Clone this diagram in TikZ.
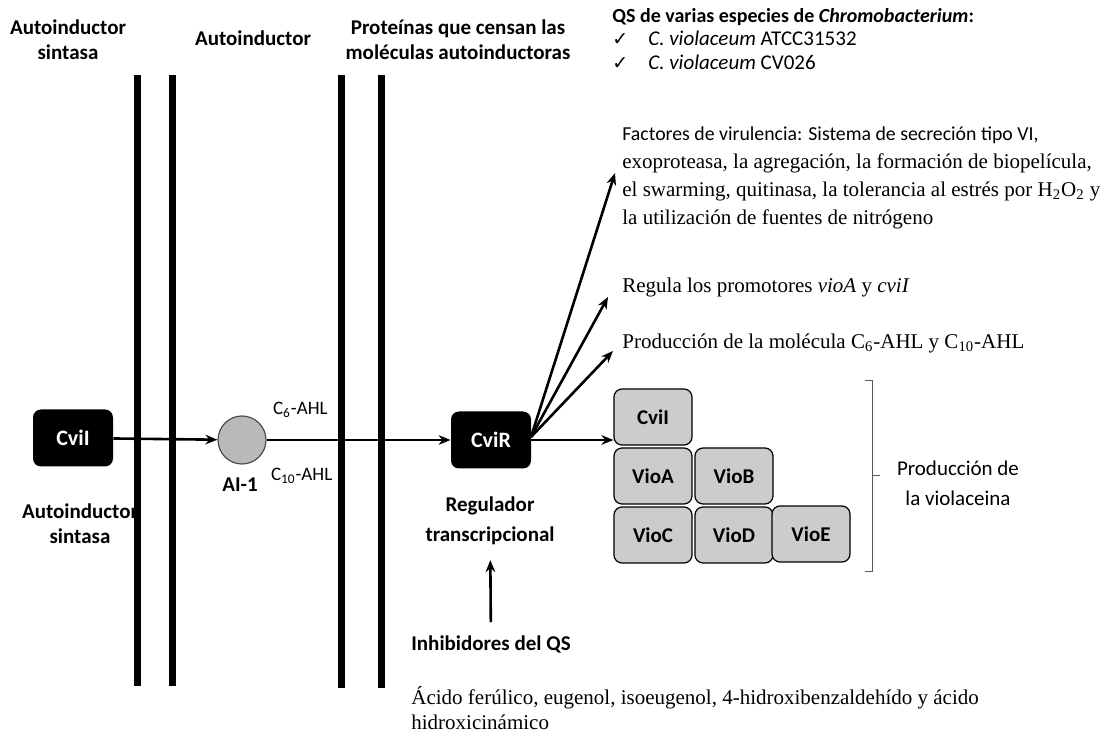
\documentclass[tikz,border=0pt]{standalone}
\usepackage{fontspec}
\setmainfont{Liberation Serif}
\setsansfont{Carlito}
\newfontfamily\simbolos{DejaVu Sans}
\usetikzlibrary{arrows.meta,positioning}

\tikzset{
  membrana/.style={line width=3.5pt},
  flecha/.style={line width=1.3pt,-{Stealth[length=6pt,width=4.8pt]}},
  proteina/.style={fill=black,text=white,rounded corners=4pt,minimum width=40pt,minimum height=28.5pt,font=\sffamily\bfseries\fontsize{11}{12}\selectfont},
  enzima/.style={draw,fill=gray!40,rounded corners=4pt,minimum width=39pt,minimum height=28pt,line width=0.6pt,font=\sffamily\bfseries\fontsize{10.5}{12}\selectfont},
  titulo/.style={font=\sffamily\bfseries\fontsize{10.5}{12.5}\selectfont,align=center},
  etiqueta/.style={font=\sffamily\fontsize{9.5}{11}\selectfont},
  texto/.style={font=\fontsize{10.5}{14}\selectfont,align=left,anchor=west,inner sep=0pt},
}

\begin{document}
\begin{tikzpicture}[x=0.5pt,y=-0.5pt]
    \useasboundingbox (0,0) rectangle (1104,732);

    % encabezados
    \node[titulo] (tsintasa) at (68,40) {Autoinductor\\sintasa};
    \node[titulo] (tautoind) at (253,38) {Autoinductor};
    \node[titulo] (tproteinas) at (458,40) {Proteínas que censan las\\moléculas autoinductoras};

    % nodos principales
    \node[proteina] (cvii) at (73,438) {CviI};
    \node[circle,draw=gray!60!black,fill=gray!55,line width=0.6pt,minimum size=24pt,inner sep=0pt] (ai) at (242,440) {};
    \node[proteina] (cvir) at (491,440) {CviR};

    \node[titulo] (ai1) at (240,485) {AI-1};
    \node[etiqueta,anchor=west] (c6) at (266,410) {C\textsubscript{6}-AHL};
    \node[etiqueta,anchor=west] (c10) at (264,476) {C\textsubscript{10}-AHL};
    \node[titulo] (sintasa) at (80,524) {Autoinductor\\sintasa};
    \node[titulo,font=\sffamily\bfseries\fontsize{10.5}{15}\selectfont] (regulador) at (490,521) {Regulador\\transcripcional};

    % membranas
    \draw[membrana] (137,75) -- (137,686);
    \draw[membrana] (172,75) -- (172,686);
    \draw[membrana] (341,75) -- (341,688);
    \draw[membrana] (381,75) -- (381,688);

    % enzimas de la violaceina
    \node[enzima] (ecvii) at (653,417) {CviI};
    \node[enzima] (vioa) at (653,476) {VioA};
    \node[enzima] (viob) at (734,476) {VioB};
    \node[enzima] (vioc) at (653,535) {VioC};
    \node[enzima] (viod) at (734,535) {VioD};
    \node[enzima] (vioe) at (811,534) {VioE};

    \draw[gray!70!black,line width=0.5pt] (865,381) -- (872,381) -- (872,572) -- (865,572);
    \draw[gray!70!black,line width=0.5pt] (872,476) -- (880,476);
    \node[etiqueta,font=\sffamily\fontsize{10.5}{15}\selectfont,align=center] (violaceina) at (958,483) {Producción de\\la violaceina};

    % textos de la derecha
    \node[font=\sffamily\fontsize{10.5}{11.75}\selectfont,align=left,anchor=north west,inner sep=0pt] (especies) at (612,8)
        {{\bfseries\fontsize{10}{11.75}\selectfont QS de varias especies de \textit{Chromobacterium}:}\\
         {\simbolos\fontsize{9.5}{9}\selectfont ✓}\hspace{10pt}\textit{C. violaceum} ATCC31532\\
         {\simbolos\fontsize{9.5}{9}\selectfont ✓}\hspace{10pt}\textit{C. violaceum} CV026};
    \node[texto] (factores) at (622,178)
        {{\sffamily\fontsize{9.9}{14}\selectfont Factores de virulencia: Sistema de secreción tipo VI,}\\
         exoproteasa, la agregación, la formación de biopelícula,\\
         el swarming, quitinasa, la tolerancia al estrés por H\textsubscript{2}O\textsubscript{2} y\\
         la utilización de fuentes de nitrógeno};
    \node[texto] (regula) at (622,287) {Regula los promotores \textit{vioA} y \textit{cviI}};
    \node[texto] (produccion) at (622,343) {Producción de la molécula C\textsubscript{6}-AHL y C\textsubscript{10}-AHL};

    \node[font=\sffamily\bfseries\fontsize{10.5}{12}\selectfont] (inhibidores) at (491,644) {Inhibidores del QS};
    \node[texto,font=\fontsize{10.5}{12.5}\selectfont] (acidos) at (411,708)
        {Ácido ferúlico, eugenol, isoeugenol, 4-hidroxibenzaldehído y ácido\\hidroxicinámico};

    % conectores
    \coordinate (salida) at (531,437);
    \coordinate (f1) at (615,173);
    \coordinate (f2) at (608,297);
    \coordinate (f3) at (613,351);

    \draw[flecha] (cvii) -- (ai);
    \draw[flecha] (ai) -- (cvir);
    \draw[flecha] (cvir) -- (ecvii.west |- cvir) ;
    \draw[flecha] (salida) -- (f1);
    \draw[flecha] (salida) -- (f2);
    \draw[flecha] (salida) -- (f3);
    \draw[flecha,shorten <=3pt,shorten >=4pt] (inhibidores) -- (regulador);
\end{tikzpicture}
\end{document}
